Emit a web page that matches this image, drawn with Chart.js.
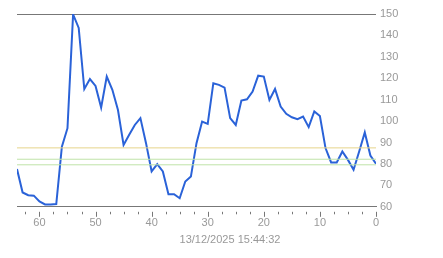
<!DOCTYPE html>
<html>
<head>
<meta charset="utf-8">
<script src="https://cdn.jsdelivr.net/npm/chart.js@4.4.1/dist/chart.umd.min.js"></script>
<style>
    html, body { margin: 0; padding: 0; background: #fff; }
    #wrap { width: 443px; height: 258px; }
</style>
</head>
<body>
<div id="wrap"><canvas id="chart"></canvas></div>
<script>
// x values run from 64 (oldest) down to 0 (now)
const ages = [64, 63, 62, 61, 60, 59, 58, 57, 56, 55, 54, 53, 52, 51, 50, 49, 48, 47, 46, 45,
    44, 43, 42, 41, 40, 39, 38, 37, 36, 35, 34, 33, 32, 31, 30, 29, 28, 27, 26, 25,
    24, 23, 22, 21, 20, 19, 18, 17, 16, 15, 14, 13, 12, 11, 10, 9, 8, 7, 6, 5, 4, 3, 2, 1, 0];
const readings = [77.6, 66.7, 65.4, 65.2, 62.5, 61.1, 61.1, 61.3, 88.1, 96.7, 149.8, 143.5, 115.0, 119.6, 116.4, 106.3, 120.8, 114.6, 105.2, 88.9,
    93.6, 98.2, 101.4, 89.7, 76.5, 79.9, 76.5, 65.9, 65.9, 64.0, 71.8, 74.1, 89.7, 99.8, 98.7, 117.7, 116.9, 115.6, 101.4, 98.2,
    109.6, 110.2, 113.8, 121.2, 120.8, 109.9, 115.0, 106.8, 103.4, 101.8, 100.9, 102.1, 97.2, 104.5, 102.4, 87.4, 80.7, 80.7, 85.8, 81.9,
    77.3, 85.8, 94.7, 83.9, 80.1];
const refLevels = [87.5, 82.2, 79.6];
const refColors = ['#e6d48a', '#bfe3a8', '#bfe3a8'];
const yTicks = [60, 70, 80, 90, 100, 110, 120, 130, 140, 150];
const stampText = '13/12/2025 15:44:32';

const xMin = 0, xMax = 64;

// reference lines as flat two-point series across the whole range
const refSets = refLevels.map((lvl, i) => ({
    data: [{ x: xMax, y: lvl }, { x: xMin, y: lvl }],
    borderColor: refColors[i],
    borderWidth: 1,
    pointRadius: 0,
    tension: 0,
}));

// small tick marks below the x axis, every 2.5, longer every 10
const tickMarks = {
    id: 'tickMarks',
    afterDraw(chart) {
        const xs = chart.scales.x;
        const ctx = chart.ctx;
        const top = chart.chartArea.bottom + 5;
        ctx.save();
        ctx.strokeStyle = '#777';
        ctx.lineWidth = 1;
        for (let v = xMin; v <= xMax; v += 2.5) {
            const px = Math.round(xs.getPixelForValue(v)) + 0.5;
            const len = v % 10 === 0 ? 5 : 2.5;
            ctx.beginPath();
            ctx.moveTo(px, top);
            ctx.lineTo(px, top + len);
            ctx.stroke();
        }
        ctx.restore();
    }
};

new Chart(document.getElementById('chart'), {
    type: 'line',
    data: {
        datasets: [
            ...refSets,
            {
                data: ages.map((a, i) => ({ x: a, y: readings[i] })),
                borderColor: '#2a62d8',
                borderWidth: 2,
                pointRadius: 0,
                tension: 0,
            }
        ]
    },
    options: {
        responsive: true,
        maintainAspectRatio: false,
        animation: false,
        layout: { padding: { left: 17, top: 14, right: 0, bottom: 0 } },
        plugins: {
            legend: { display: false },
            tooltip: { enabled: false },
            title: {
                display: true,
                position: 'bottom',
                text: stampText,
                color: '#999',
                font: { family: 'Liberation Sans', size: 11, weight: 'normal' },
                padding: { top: 6, bottom: 11 },
            }
        },
        scales: {
            x: {
                type: 'linear',
                reverse: true,
                min: xMin,
                max: xMax,
                grid: { display: false, drawTicks: false },
                border: { display: true, color: '#777', width: 1 },
                ticks: {
                    stepSize: 10,
                    color: '#999',
                    padding: 10,
                    maxRotation: 0,
                    font: { family: 'Liberation Sans', size: 11 },
                    callback: v => (v % 10 === 0 ? String(v) : ''),
                },
                afterFit: s => { s.height = 21; },
            },
            y: {
                position: 'right',
                min: 60,
                max: 150,
                afterBuildTicks: s => { s.ticks = yTicks.map(v => ({ value: v })); },
                grid: {
                    drawTicks: false,
                    color: c => (c.tick && c.tick.value === 150 ? '#777' : 'rgba(0,0,0,0)'),
                },
                border: { display: false },
                ticks: {
                    color: '#999',
                    padding: 4,
                    font: { family: 'Liberation Sans', size: 11 },
                },
                afterFit: s => { s.width = 67; },
            }
        }
    },
    plugins: [tickMarks]
});
</script>
</body>
</html>
